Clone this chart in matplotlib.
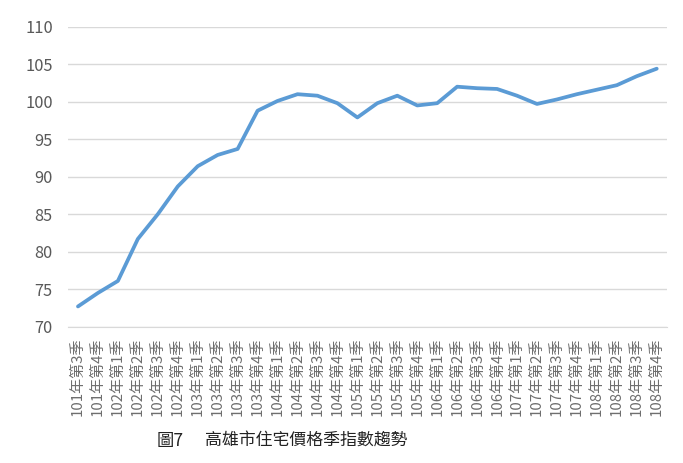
import matplotlib
matplotlib.use('Agg')
import matplotlib.pyplot as plt

plt.rcParams['font.family'] = ['Noto Sans CJK TC', 'DejaVu Sans']

years = [101, 101] + [y for y in range(102, 109) for _ in range(4)]
quarters = [3, 4] + [1, 2, 3, 4] * 7
labels = [f'{y}年第{q}季' for y, q in zip(years, quarters)]

index_values = [72.7, 74.5, 76.1, 81.7, 85.0, 88.7, 91.4, 92.9, 93.7, 98.8,
                100.1, 101.0, 100.8, 99.8, 97.9, 99.8, 100.8, 99.5, 99.8, 102.0,
                101.8, 101.7, 100.8, 99.7, 100.3, 101.0, 101.6, 102.2, 103.4, 104.4]

yticks = [70, 75, 80, 85, 90, 95, 100, 105, 110]

fig = plt.figure(figsize=(6.83, 4.63), dpi=100)
ax = fig.add_axes([68/683, 136.3/463, 598.7/683, 300/463])

x = list(range(len(labels)))
ax.plot(x, index_values, color='#5B9BD5', lw=2.7, solid_capstyle='round', solid_joinstyle='round')

ax.set_xlim(-0.5, len(labels) - 0.5)
ax.set_ylim(70, 110)
ax.set_yticks(yticks)
ax.set_xticks(x)
ax.set_xticklabels(labels, rotation=90, fontsize=10.8, color='#6E6E6E')
ax.tick_params(axis='y', length=0, pad=11, labelsize=11.8, labelcolor='#595959')
ax.tick_params(axis='x', length=0, pad=8)
ax.grid(axis='y', color='#D9D9D9', lw=1)
ax.set_axisbelow(True)
for s in ['top', 'right', 'left']:
    ax.spines[s].set_visible(False)
ax.spines['bottom'].set_color('#D9D9D9')

fig.text(157/683, 1 - 441/463, '圖7', fontsize=12.5, color='#222222', ha='left', va='center')
fig.text(205/683, 1 - 441/463, '高雄市住宅價格季指數趨勢', fontsize=12.2, color='#222222', ha='left', va='center')

fig.savefig('out.png', dpi=100)
